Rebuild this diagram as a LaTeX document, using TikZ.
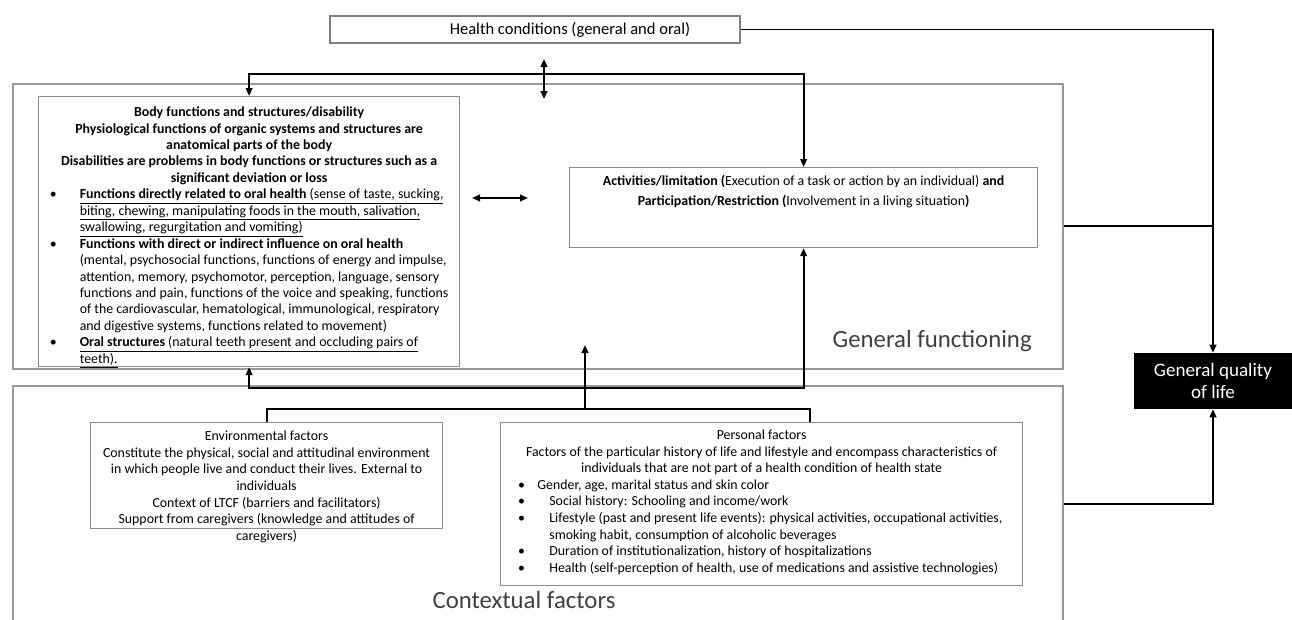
\documentclass[tikz,border=0pt]{standalone}
\usepackage{fontspec}
\setmainfont{Carlito}
\usetikzlibrary{arrows.meta,calc,positioning}

\def\pxu{0.75pt}
\newcommand{\ctr}[1]{\multicolumn{2}{c}{#1}}
\newcommand{\bul}{\textbullet}

\begin{document}
\begin{tikzpicture}[
		x=0.75pt, y=-0.75pt,
		line join=miter,
		>={Triangle[length=6pt,width=5pt]},
		% --- boxes and texts ---
		hcbox/.style={draw=black!50, line width=0.9pt, inner sep=0pt,
			font=\fontsize{12.4}{15}\selectfont},
		groupbox/.style={draw=black!40, line width=1.3pt, inner sep=0pt, anchor=north west},
		itembox/.style={draw=black!45, line width=0.9pt, inner sep=0pt, anchor=north west},
		boxtext/.style={inner sep=0pt, font=\fontsize{10.4}{12.4}\selectfont},
		qolbox/.style={fill=black, text=white, inner sep=0pt, align=center,
			font=\fontsize{14.3}{16.5}\selectfont},
		grouplabel/.style={inner sep=0pt, text=black!75, font=\fontsize{18.6}{22}\selectfont},
		conn/.style={line width=1.4pt, draw=black}
		]
		
		\useasboundingbox (0,0) rectangle (1292,619);
		
		% ---------- Health conditions ----------
		\node[hcbox, minimum width=410*\pxu, minimum height=27*\pxu] (hc) at (535,29.5)
		{\hspace*{52.5pt}Health conditions (general and oral)};
		
		% ---------- Group frames ----------
		\node[groupbox, minimum width=1050*\pxu, minimum height=285*\pxu] (gf) at (12,83) {};
		\node[groupbox, minimum width=1050*\pxu, minimum height=237*\pxu] (ctx) at (12,385) {};
		\node[grouplabel, anchor=base east] (gflabel) at (1032,347) {General functioning};
		\node[grouplabel, anchor=base] (ctxlabel) at (524,608) {Contextual factors};
		
		% ---------- Components ----------
		\node[itembox, minimum width=421*\pxu, minimum height=270*\pxu] (body) at (38,96) {};
		\node[itembox, minimum width=468*\pxu, minimum height=80*\pxu] (act) at (569,167) {};
		\node[itembox, minimum width=352*\pxu, minimum height=106*\pxu] (env) at (90,422) {};
		\node[itembox, minimum width=522*\pxu, minimum height=163*\pxu] (pers) at (500,422) {};
		
		% ---------- Quality of life ----------
		\node[qolbox, minimum width=158*\pxu, minimum height=56*\pxu] (qol) at (1213,381)
		{General quality\\of life};
		
		% ---------- Texts of the components ----------
		\node[boxtext, font=\fontsize{10.4}{12.3}\selectfont, below=6.75pt of body.north] (bodytxt) {%
			\begin{tabular}{@{}p{22.5pt}@{}l@{}}
				\ctr{\textbf{Body functions and structures/disability}}\\
				\ctr{\textbf{Physiological functions of organic systems and structures are}}\\
				\ctr{\textbf{anatomical parts of the body}}\\
				\ctr{\textbf{Disabilities are problems in body functions or structures such as a}}\\
				\ctr{\textbf{significant deviation or loss}}\\
				\bul & \underline{\textbf{Functions directly related to oral health} (sense of taste, sucking,}\\
				& \underline{biting, chewing, manipulating foods in the mouth, salivation,}\\
				& \underline{swallowing, regurgitation and vomiting)}\\
				\bul & \textbf{Functions with direct or indirect influence on oral health}\\
				& (mental, psychosocial functions, functions of energy and impulse,\\
				& attention, memory, psychomotor, perception, language, sensory\\
				& functions and pain, functions of the voice and speaking, functions\\
				& of the cardiovascular, hematological, immunological, respiratory\\
				& and digestive systems, functions related to movement)\\
				\bul & \underline{\textbf{Oral structures} (natural teeth present and occluding pairs of}\\
				& \underline{teeth).}
			\end{tabular}};
		
		\node[boxtext, align=center, font=\fontsize{10.4}{15}\selectfont,
		below=6pt of act.north] (acttxt)
		{\textbf{Activities/limitation (}Execution of a task or action by an individual) \textbf{and}\\
			\textbf{Participation/Restriction (}Involvement in a living situation\textbf{)}};
		
		\node[boxtext, align=center, below=6.75pt of env.north] (envtxt)
		{Environmental factors\\
			Constitute the physical, social and attitudinal environment\\
			in which people live and conduct their lives. External to\\
			individuals\\
			Context of LTCF (barriers and facilitators)\\
			Support from caregivers (knowledge and attitudes of\\
			caregivers)};
		
		\node[boxtext, below=4.5pt of pers.north] (perstxt) {%
			\begin{tabular}{@{}p{14.5pt}@{}l@{}}
				\ctr{Personal factors}\\
				\ctr{Factors of the particular history of life and lifestyle and encompass characteristics of}\\
				\ctr{individuals that are not part of a health condition of health state}\\
				\bul & Gender, age, marital status and skin color\\
				\bul & \hspace*{9pt}Social history: Schooling and income/work\\
				\bul & \hspace*{9pt}Lifestyle (past and present life events): physical activities, occupational activities,\\
				& \hspace*{9pt}smoking habit, consumption of alcoholic beverages\\
				\bul & \hspace*{9pt}Duration of institutionalization, history of hospitalizations\\
				\bul & \hspace*{9pt}Health (self-perception of health, use of medications and assistive technologies)
			\end{tabular}};
		
		% ---------- Connectors ----------
		\coordinate (topbar) at (544,74);
		\coordinate (hcup) at (544,59);
		\coordinate (hcdown) at (544,99);
		\coordinate (ba1) at (472,198);
		\coordinate (ba2) at (528,198);
		\coordinate (midbar) at (585,388);
		\coordinate (fanbar) at (585,409);
		\coordinate (gfarrow) at (585,345);
		\coordinate (perstop) at (810,422);
		
		\draw[conn,<->] (body.north) |- (topbar) -| (act.north);
		\draw[conn,<->] (hcup) -- (hcdown);
		\draw[conn,<->] (ba1) -- (ba2);
		\draw[conn,<->] (body.south) |- (midbar) -| (act.south);
		\draw[conn] (env.north) |- (fanbar) -| (perstop);
		\draw[conn,->] (fanbar) -- (gfarrow);
		
		% ---------- To general quality of life ----------
		\draw[conn,->] (hc.east) -| (qol.north);
		\draw[conn] (gf.east) -- (gf.east -| qol.north);
		\draw[conn,->] (ctx.east) -| (qol.south);
		
	\end{tikzpicture}
\end{document}
